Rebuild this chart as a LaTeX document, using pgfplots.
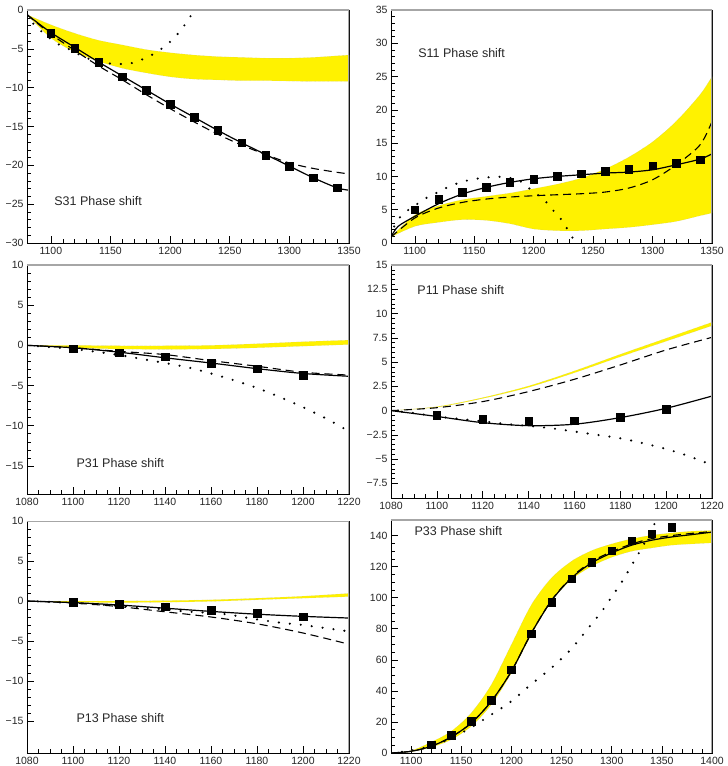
\documentclass[border=0pt]{standalone}
\usepackage{fontspec}
\setmainfont{Liberation Sans}
\usepackage{pgfplots}
\pgfplotsset{compat=1.18}
\usepgfplotslibrary{fillbetween}

\pgfplotsset{
  rootax/.style={
    scale only axis, anchor=south west,
    tick pos=left, tick align=inside,
    major tick length=7pt, minor tick length=3.5pt,
    every tick/.style={black, line width=0.5pt},
    axis line style={black, line width=0.7pt},
    ticklabel style={font=\fontsize{10.5}{11}\selectfont, text=black!85},
    xticklabel style={yshift=-0.5pt},
    /pgf/number format/assume math mode=true,
    /pgf/number format/1000 sep={},
  },
  band/.style={draw=gray!60, densely dotted, line width=0.3pt, smooth},
  sol/.style={black, line width=1.2pt, smooth},
  dsh/.style={black, line width=1.1pt, smooth, dash pattern=on 8pt off 5pt},
  dot/.style={black, line width=2.4pt, smooth, line cap=round, dash pattern=on 0pt off 11pt},
  sq/.style={only marks, mark=square*, mark size=3.8pt, black},
}
\tikzset{ttl/.style={anchor=west, font=\fontsize{12.5}{13}\selectfont, text=black!85}}
\newcommand{\frametr}{\draw[gray!70, line width=1.2pt] (rel axis cs:0,1) -- (rel axis cs:1,1) -- (rel axis cs:1,0);}

\begin{document}
\begin{tikzpicture}

% ---------------- S31 ----------------
\begin{axis}[rootax, at={(27pt,523pt)}, width=322pt, height=233pt,
    xmin=1080, xmax=1350, ymin=-30, ymax=0,
    xtick={1100,1150,...,1350}, minor x tick num=4,
    ytick={-30,-25,-20,-15,-10,-5,0}, yticklabels={−30,−25,−20,−15,−10,−5,0},
    minor y tick num=4]
  \addplot[band, name path=u1] coordinates {(1080,-0.6) (1100,-1.9) (1120,-3.0) (1140,-3.9) (1160,-4.5) (1180,-5.1) (1200,-5.5) (1220,-5.8) (1240,-6.0) (1260,-6.1) (1280,-6.2) (1300,-6.2) (1320,-6.1) (1340,-5.9) (1350,-5.8)};
  \addplot[band, name path=l1] coordinates {(1080,-0.6) (1100,-3.6) (1120,-5.4) (1140,-6.6) (1160,-7.5) (1180,-8.1) (1200,-8.6) (1220,-8.9) (1240,-9.0) (1260,-9.1) (1280,-9.1) (1300,-9.15) (1320,-9.2) (1340,-9.2) (1350,-9.2)};
  \addplot[yellow] fill between[of=u1 and l1];
  \addplot[dot] coordinates {(1080,-0.6) (1086,-1.9) (1094,-3.0) (1105,-4.3) (1116,-5.1) (1127,-6.0) (1138,-6.6) (1150,-6.9) (1161,-6.95) (1169,-6.8) (1179,-6.2) (1189,-5.4) (1200,-4.1) (1210,-2.4) (1220,-0.1) (1224,1)};
  \addplot[dsh] coordinates {(1080,-0.6) (1100,-3.1) (1120,-5.2) (1140,-7.2) (1160,-9.0) (1180,-10.9) (1200,-12.7) (1220,-14.4) (1240,-16.0) (1260,-17.4) (1280,-18.6) (1300,-19.7) (1320,-20.4) (1340,-20.9) (1350,-21.1)};
  \addplot[sol] coordinates {(1080,-0.6) (1100,-2.9) (1120,-4.8) (1140,-6.7) (1160,-8.5) (1180,-10.3) (1200,-12.1) (1220,-13.8) (1240,-15.5) (1260,-17.1) (1280,-18.6) (1300,-20.1) (1320,-21.6) (1340,-22.9) (1350,-23.2)};
  \addplot[sq] coordinates {(1100,-3.0) (1120,-4.9) (1140,-6.7) (1160,-8.6) (1180,-10.3) (1200,-12.1) (1220,-13.8) (1240,-15.5) (1260,-17.1) (1280,-18.7) (1300,-20.1) (1320,-21.6) (1340,-22.9)};
  \node[ttl] at (axis cs:1100,-24.6) {S31 Phase shift};
  \frametr
\end{axis}

% ---------------- S11 ----------------
\begin{axis}[rootax, at={(391pt,523pt)}, width=321pt, height=233pt,
    xmin=1080, xmax=1350, ymin=0, ymax=35,
    xtick={1100,1150,...,1350}, minor x tick num=4,
    ytick={0,5,...,35}, minor y tick num=4]
  \addplot[band, name path=u2] coordinates {(1080,0.9) (1100,4.2) (1120,5.6) (1140,6.5) (1160,7.0) (1180,7.5) (1200,8.15) (1220,8.85) (1240,9.75) (1260,11.1) (1280,12.9) (1300,15.2) (1320,18.3) (1340,22.3) (1350,25.0)};
  \addplot[band, name path=l2] coordinates {(1080,0.9) (1100,2.5) (1120,3.1) (1140,3.5) (1160,3.4) (1180,2.9) (1200,2.1) (1220,1.85) (1240,1.85) (1260,2.1) (1280,2.35) (1300,2.75) (1320,3.25) (1340,4.1) (1350,4.5)};
  \addplot[yellow] fill between[of=u2 and l2];
  \addplot[dot] coordinates {(1080,0.9) (1084,3.1) (1089,4.1) (1094,4.9) (1100,5.6) (1108,6.6) (1118,7.5) (1128,8.4) (1139,9.15) (1150,9.6) (1161,9.85) (1170,9.95) (1181,9.75) (1189,9.25) (1195,8.35) (1200,7.75) (1205,7.0) (1210,6.25) (1219,4.35) (1225,3.15) (1229,1.85) (1234,0.4) (1236,-0.5)};
  \addplot[dsh] coordinates {(1080,0.9) (1100,3.75) (1120,5.25) (1140,6.1) (1160,6.6) (1180,6.9) (1200,7.1) (1220,7.25) (1240,7.4) (1260,7.65) (1280,8.25) (1300,9.5) (1320,11.75) (1340,14.75) (1350,18.25)};
  \addplot[sol] coordinates {(1080,0.9) (1086,2.5) (1100,4.0) (1120,5.9) (1140,7.35) (1160,8.35) (1180,9.1) (1200,9.65) (1220,10.0) (1240,10.25) (1260,10.5) (1280,10.65) (1300,11.0) (1320,11.75) (1340,12.6) (1350,13.4)};
  \addplot[sq] coordinates {(1100,5.0) (1120,6.6) (1140,7.65) (1160,8.4) (1180,9.1) (1200,9.6) (1220,10.0) (1240,10.4) (1260,10.75) (1280,11.1) (1300,11.6) (1320,12.0) (1340,12.5)};
  \node[ttl] at (axis cs:1100,28.5) {S11 Phase shift};
  \frametr
\end{axis}

% ---------------- P31 ----------------
\begin{axis}[rootax, at={(27pt,272pt)}, width=322pt, height=229pt,
    xmin=1080, xmax=1220, ymin=-18.5, ymax=10,
    xtick={1080,1100,...,1220}, minor x tick num=3,
    ytick={-15,-10,-5,0,5,10}, yticklabels={−15,−10,−5,0,5,10},
    minor y tick num=4]
  \addplot[band, name path=u3] coordinates {(1080,0) (1100,0) (1120,-0.05) (1140,-0.05) (1160,0.0) (1180,0.2) (1200,0.45) (1220,0.65)};
  \addplot[band, name path=l3] coordinates {(1080,0) (1100,-0.3) (1120,-0.45) (1140,-0.5) (1160,-0.45) (1180,-0.3) (1200,-0.1) (1220,0.1)};
  \addplot[yellow] fill between[of=u3 and l3];
  \addplot[dot] coordinates {(1080,0) (1100,-0.45) (1110,-0.8) (1120,-1.2) (1130,-1.7) (1140,-2.2) (1150,-2.75) (1160,-3.5) (1170,-4.35) (1180,-5.3) (1190,-6.45) (1200,-7.7) (1210,-9.1) (1220,-10.7)};
  \addplot[dsh] coordinates {(1080,0) (1100,-0.3) (1120,-0.75) (1140,-1.15) (1160,-1.9) (1180,-2.6) (1200,-3.35) (1220,-3.7)};
  \addplot[sol] coordinates {(1080,0) (1100,-0.3) (1120,-0.85) (1140,-1.55) (1160,-2.2) (1180,-2.9) (1200,-3.5) (1220,-3.85)};
  \addplot[sq] coordinates {(1100,-0.4) (1120,-0.9) (1140,-1.4) (1160,-2.2) (1180,-2.9) (1200,-3.7)};
  \node[ttl] at (axis cs:1100,-14.6) {P31 Phase shift};
  \frametr
\end{axis}

% ---------------- P11 ----------------
\begin{axis}[rootax, at={(391pt,268pt)}, width=321pt, height=233pt,
    xmin=1080, xmax=1220, ymin=-9, ymax=15,
    xtick={1080,1100,...,1220}, minor x tick num=3,
    ytick={-7.5,-5,-2.5,0,2.5,5,7.5,10,12.5,15},
    yticklabels={−7.5,−5,−2.5,0,2.5,5,7.5,10,12.5,15},
    minor y tick num=4]
  \addplot[band, name path=u4] coordinates {(1080,0) (1100,0.41) (1120,1.34) (1140,2.54) (1160,4.09) (1180,5.8) (1200,7.45) (1220,9.1)};
  \addplot[band, name path=l4] coordinates {(1080,0) (1100,0.35) (1120,1.25) (1140,2.4) (1160,3.9) (1180,5.55) (1200,7.15) (1220,8.75)};
  \addplot[yellow] fill between[of=u4 and l4];
  \addplot[dot] coordinates {(1080,0) (1090,-0.25) (1100,-0.6) (1110,-0.86) (1120,-1.1) (1130,-1.37) (1140,-1.58) (1150,-1.82) (1160,-2.16) (1170,-2.5) (1180,-2.85) (1190,-3.36) (1200,-3.95) (1210,-4.7) (1220,-5.6)};
  \addplot[dsh] coordinates {(1080,0) (1100,0.3) (1120,0.93) (1140,1.96) (1160,3.23) (1180,4.7) (1200,6.25) (1220,7.55)};
  \addplot[sol] coordinates {(1080,0) (1100,-0.6) (1120,-1.24) (1140,-1.55) (1160,-1.4) (1180,-0.72) (1200,0.24) (1220,1.5)};
  \addplot[sq] coordinates {(1100,-0.45) (1120,-0.86) (1140,-1.03) (1160,-1.03) (1180,-0.69) (1200,0.14)};
  \node[ttl] at (axis cs:1090,12.4) {P11 Phase shift};
  \frametr
\end{axis}

% ---------------- P13 ----------------
\begin{axis}[rootax, at={(27pt,13pt)}, width=322pt, height=232pt,
    xmin=1080, xmax=1220, ymin=-19, ymax=10,
    xtick={1080,1100,...,1220}, minor x tick num=3,
    ytick={-15,-10,-5,0,5,10}, yticklabels={−15,−10,−5,0,5,10},
    minor y tick num=4]
  \addplot[band, name path=u5] coordinates {(1080,0) (1100,0) (1120,0) (1140,0.05) (1160,0.15) (1180,0.35) (1200,0.6) (1220,0.95)};
  \addplot[band, name path=l5] coordinates {(1080,0) (1100,-0.15) (1120,-0.2) (1140,-0.15) (1160,-0.05) (1180,0.15) (1200,0.35) (1220,0.55)};
  \addplot[yellow] fill between[of=u5 and l5];
  \addplot[dot] coordinates {(1080,0) (1100,-0.25) (1120,-0.6) (1140,-1.05) (1150,-1.33) (1165,-1.6) (1180,-2.3) (1190,-2.7) (1200,-3.0) (1210,-3.4) (1220,-3.8)};
  \addplot[dsh] coordinates {(1080,0) (1100,-0.25) (1120,-0.7) (1140,-1.35) (1160,-2.0) (1180,-2.85) (1200,-4.0) (1220,-5.4)};
  \addplot[sol] coordinates {(1080,0) (1100,-0.2) (1120,-0.5) (1140,-0.9) (1160,-1.3) (1180,-1.65) (1200,-1.92) (1220,-2.13)};
  \addplot[sq] coordinates {(1100,-0.17) (1120,-0.42) (1140,-0.72) (1160,-1.13) (1180,-1.54) (1200,-1.96)};
  \node[ttl] at (axis cs:1100,-14.6) {P13 Phase shift};
  \frametr
\end{axis}

% ---------------- P33 ----------------
\begin{axis}[rootax, at={(391pt,13pt)}, width=321pt, height=233pt,
    xmin=1080, xmax=1400, ymin=0, ymax=150,
    xtick={1100,1150,...,1400}, minor x tick num=4,
    ytick={0,20,...,140}, minor y tick num=3]
  \addplot[band, name path=u6] coordinates {(1080,0) (1100,1.5) (1120,7) (1140,14) (1160,25.8) (1180,44) (1200,69.8) (1220,95.5) (1240,112.7) (1260,123.5) (1280,130.3) (1300,134.6) (1320,137.9) (1340,140.2) (1360,141.7) (1380,142.8) (1400,143.2)};
  \addplot[band, name path=l6] coordinates {(1080,0) (1100,0.8) (1120,3.7) (1140,8.6) (1160,17.2) (1180,31.1) (1200,51.5) (1220,76.2) (1240,97.7) (1260,111.7) (1280,120.2) (1300,126) (1320,129.9) (1340,132) (1360,133.8) (1380,134.6) (1400,135.3)};
  \addplot[yellow] fill between[of=u6 and l6];
  \addplot[dot] coordinates {(1080,0) (1100,1.5) (1120,4.5) (1140,9.5) (1160,16.5) (1180,24.7) (1200,33.3) (1220,44.4) (1240,54.8) (1260,67.2) (1280,83.1) (1290,91) (1300,100.6) (1310,110) (1320,121) (1330,132) (1340,144) (1346,152)};
  \addplot[dsh] coordinates {(1080,0) (1100,1.1) (1120,4.3) (1140,10.3) (1160,19.3) (1180,33.3) (1200,52.6) (1220,77.3) (1240,98.3) (1260,113.2) (1280,123.2) (1300,129.6) (1320,134.6) (1340,138) (1360,140) (1380,141.4) (1400,142.6)};
  \addplot[sol] coordinates {(1080,0) (1100,1.1) (1120,4.3) (1140,10.3) (1160,19.3) (1180,33.3) (1200,52.6) (1220,77.3) (1240,98.1) (1260,112.7) (1280,122.4) (1300,128.8) (1320,133.8) (1340,137.0) (1360,139.1) (1380,140.6) (1400,142.2)};
  \addplot[sq] coordinates {(1120,5.4) (1140,11.4) (1160,20.4) (1180,33.9) (1200,53.7) (1220,76.7) (1240,97.1) (1260,112.3) (1280,122.8) (1300,130.3) (1320,136.6) (1340,141.1) (1360,145.2)};
  \node[ttl] at (axis cs:1100,142.6) {P33 Phase shift};
  \frametr
\end{axis}

\pgfresetboundingbox
\useasboundingbox (0,0) rectangle (728pt,766pt);
\end{tikzpicture}
\end{document}
